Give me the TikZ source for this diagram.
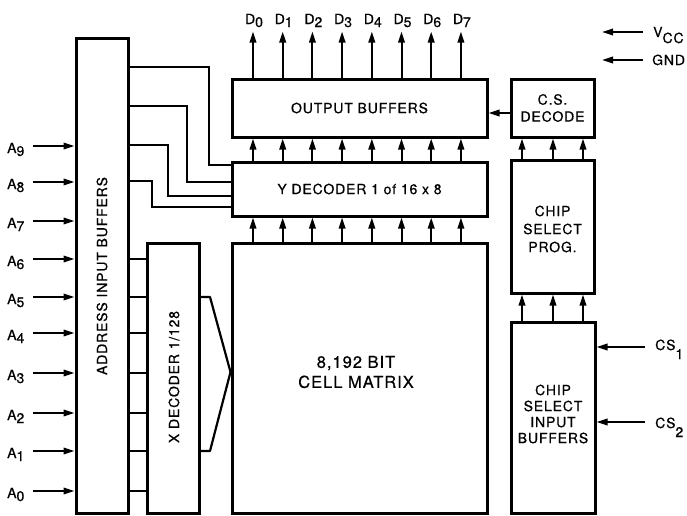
\documentclass[tikz,border=0pt]{standalone}
\usepackage{fontspec}
\setmainfont{TeX Gyre Heros}[LetterSpace=6,FakeBold=0.6]
\usetikzlibrary{arrows.meta}
\newcommand{\lsub}[2][-3pt]{\raisebox{#1}{#2}}

\begin{document}
\begin{tikzpicture}[x=1pt,y=-1pt,
  box/.style={draw, line width=3pt, inner sep=0pt, align=center},
  wire/.style={line width=2.2pt},
  arr/.style={line width=2pt, -{Triangle[length=11pt,width=6.5pt]}},
  lbl/.style={font=\fontsize{14}{17}\selectfont, inner sep=0pt, align=center}]
\useasboundingbox (0,0) rectangle (687,515);

% boxes
\node[box, minimum width=52pt, minimum height=475pt] (addr) at (102,275.5) {};
\node[box, minimum width=52pt, minimum height=270pt] (xdec) at (173,378) {};
\node[box, minimum width=255pt, minimum height=270pt] (cell) at (359.5,378) {};
\node[box, minimum width=255pt, minimum height=54pt] (ydec) at (359.5,189) {};
\node[box, minimum width=255pt, minimum height=58pt] (outb) at (359.5,108) {};
\node[box, minimum width=83pt, minimum height=58pt] (csdec) at (552.5,108) {};
\node[box, minimum width=83pt, minimum height=133pt] (csprog) at (552.5,226.5) {};
\node[box, minimum width=84pt, minimum height=191pt] (csin) at (553,417.5) {};

% box texts
\node[lbl, rotate=90] (addrtxt) at (102,276) {ADDRESS INPUT BUFFERS};
\node[lbl, rotate=90] (xdectxt) at (174,377) {X DECODER 1/128};
\node[lbl, font=\fontsize{16.5}{20}\selectfont] (celltxt) at (356,372) {8,192 BIT\\CELL MATRIX};
\node[lbl] (ydectxt) at (ydec.center) {Y DECODER 1 of 16 x 8};
\node[lbl] (outbtxt) at (outb.center) {OUTPUT BUFFERS};
\node[lbl] (csdectxt) at (csdec.center) {C.S.\\DECODE};
\node[lbl, font=\fontsize{14}{18}\selectfont] (csprogtxt) at (552.5,229) {CHIP\\SELECT\\PROG.};
\node[lbl, font=\fontsize{14}{16}\selectfont] (csintxt) at (553,414) {CHIP\\SELECT\\INPUT\\BUFFERS};

% address inputs
\foreach \n/\yy in {9/146,8/182,7/221,6/259,5/297,4/333,3/373,2/413,1/451,0/491} {
  \node[lbl, anchor=base west] (la\n) at (7,\yy+7) {A\lsub{\n}};
  \coordinate (pa\n) at (33,\yy);
  \draw[arr] (pa\n) -- (pa\n -| addr.west);
}
\foreach \n in {6,5,4,3,2,1,0} {
  \draw[wire] (pa\n -| addr.east) -- (pa\n -| xdec.west);
}

% X decoder fan into cell matrix
\coordinate (xf1) at (210,297);
\coordinate (xf2) at (210,451);
\coordinate (xtip) at (cell.west |- 0,372);
\draw[wire, line join=round] (xdec.east |- xf1) -- (xf1) -- (xtip) -- (xf2) -- (xdec.east |- xf2);

% address buffer to Y decoder
\coordinate (w1) at (209,67);
\coordinate (w2) at (187,106);
\coordinate (w3) at (168,145);
\coordinate (w4) at (152,181);
\draw[wire] (addr.east |- w1) -- (w1) |- (ydec.west |- 0,165);
\draw[wire] (addr.east |- w2) -- (w2) |- (ydec.west |- 0,182);
\draw[wire] (addr.east |- w3) -- (w3) |- (ydec.west |- 0,196);
\draw[wire] (addr.east |- w4) -- (w4) |- (ydec.west |- 0,207);

% data columns
\foreach \i in {0,...,7} {
  \pgfmathsetmacro{\xx}{253+29.7*\i}
  \coordinate (col\i) at (\xx,0);
  \node[lbl, anchor=base] (d\i) at (\xx+1,24) {D\lsub{\i}};
  \draw[arr] (outb.north -| col\i) -- ++(0,-46);
  \draw[arr] (ydec.north -| col\i) -- (outb.south -| col\i);
  \draw[arr] (cell.north -| col\i) -- (ydec.south -| col\i);
}

% chip select paths
\draw[arr] (csdec.west |- 0,113) -- (outb.east |- 0,113);
\foreach \xx [count=\k] in {522,553,583} {
  \coordinate (cs\k) at (\xx,0);
  \draw[arr] (csprog.north -| cs\k) -- (csdec.south -| cs\k);
  \draw[arr] (csin.north -| cs\k) -- (csprog.south -| cs\k);
}

% power and chip select inputs
\coordinate (vcc) at (643,32);
\coordinate (gnd) at (643,60);
\draw[arr] (vcc) -- ++(-41,0);
\draw[arr] (gnd) -- ++(-41,0);
\node[lbl, anchor=base west] (vcctxt) at (653,37) {V\lsub[-6pt]{CC}};
\node[lbl, anchor=base west] (gndtxt) at (652,65) {GND};

\coordinate (cs1p) at (645,347);
\coordinate (cs2p) at (645,422);
\draw[arr] (cs1p) -- (cs1p -| csin.east);
\draw[arr] (cs2p) -- (cs2p -| csin.east);
\node[lbl, anchor=base west] (cs1txt) at (655,350) {CS\lsub[-9pt]{1}};
\node[lbl, anchor=base west] (cs2txt) at (655,428) {CS\lsub[-9pt]{2}};
\end{tikzpicture}
\end{document}
